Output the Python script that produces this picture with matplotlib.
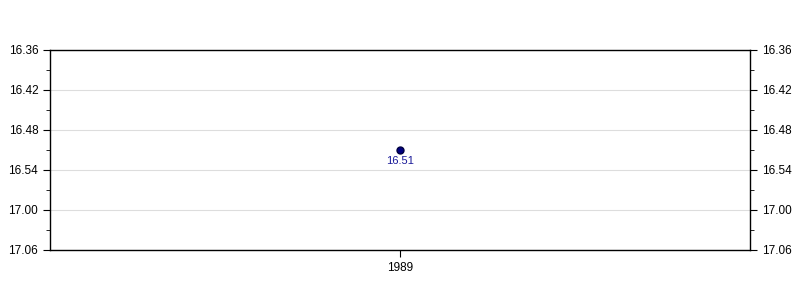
import matplotlib
matplotlib.use("Agg")
import matplotlib.pyplot as plt
from matplotlib.ticker import FuncFormatter, MultipleLocator

plt.rcParams['font.family'] = ['Liberation Sans', 'DejaVu Sans']

years = ["1989"]
times = ["16.51"]          # minutes.seconds
labels = ["16.51"]

def to_sec(t):
    m, s = t.split(".")
    return int(m) * 60 + int(s)

secs = [to_sec(t) for t in times]

fig = plt.figure(figsize=(8, 3), dpi=100)
ax = fig.add_axes([50/800, 50/300, 700/800, 200/300])

xs = list(range(len(years)))
ax.plot(xs, secs, 'o', color='#000080', markeredgecolor='#000040', markersize=5, zorder=3)
for x, y, lab in zip(xs, secs, labels):
    ax.annotate(lab, (x, y), xytext=(0, -4), textcoords='offset points',
                ha='center', va='top', color='#1a1a99', fontsize=8)

ymin, ymax = to_sec("16.36"), to_sec("17.06")
ax.set_ylim(ymax, ymin)
ax.set_xlim(-1, 1)
ax.set_xticks(xs)
ax.set_xticklabels(years)

ax.yaxis.set_major_locator(MultipleLocator(6))
ax.yaxis.set_minor_locator(MultipleLocator(3))
ax.yaxis.set_major_formatter(FuncFormatter(lambda v, p: "%d.%02d" % (int(v) // 60, int(v) % 60)))
ax.tick_params(axis='y', which='both', left=True, right=True, labelleft=True, labelright=True,
               direction='out', labelsize=8.5)
ax.tick_params(axis='y', which='major', length=5)
ax.tick_params(axis='y', which='minor', length=3)
ax.tick_params(axis='x', which='major', length=5, labelsize=8.5)
ax.grid(axis='y', which='major', color='#dddddd', linewidth=0.8)
ax.set_axisbelow(True)
for s in ax.spines.values():
    s.set_linewidth(1)

fig.savefig("out.png", dpi=100)
